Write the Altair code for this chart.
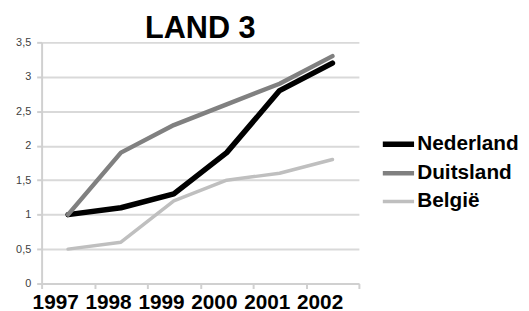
import altair as alt
import pandas as pd

years = ["1997", "1998", "1999", "2000", "2001", "2002"]
series_names = ["Nederland", "Duitsland", "België"]
nederland = [1.0, 1.1, 1.3, 1.9, 2.8, 3.2]
duitsland = [1.0, 1.9, 2.3, 2.6, 2.9, 3.3]
belgie = [0.5, 0.6, 1.2, 1.5, 1.6, 1.8]
y_ticks = [0, 0.5, 1, 1.5, 2, 2.5, 3, 3.5]

colors = ["#000000", "#808080", "#bfbfbf"]
widths = [5.5, 3.5, 3.5]

rows = []
for name, vals in zip(series_names, [nederland, duitsland, belgie]):
    for yr, v in zip(years, vals):
        rows.append({"jaar": yr, "waarde": v, "land": name})
df = pd.DataFrame(rows)

FONT = "Liberation Sans"

legend_kw = dict(title=None, orient="none", legendX=342, legendY=84,
                 symbolType="stroke", symbolSize=1000,
                 labelFont=FONT, labelFontSize=21,
                 labelFontWeight="bold", labelColor="#000000",
                 labelOffset=0, rowPadding=0, padding=0)

chart = alt.Chart(df).mark_line(strokeCap="round", strokeJoin="round").encode(
    x=alt.X("jaar:O", sort=years,
            scale=alt.Scale(type="band", paddingInner=0, paddingOuter=0),
            axis=alt.Axis(title=None, labelAngle=0, grid=False, tickBand="extent",
                          labelFont=FONT, labelFontSize=21, labelFontWeight="bold",
                          labelColor="#000000", labelOffset=-13, labelPadding=3,
                          domainColor="#d0d0d0", domainWidth=2,
                          tickColor="#d0d0d0", tickWidth=2, tickSize=5)),
    y=alt.Y("waarde:Q",
            scale=alt.Scale(domain=[0, 3.5], nice=False),
            axis=alt.Axis(title=None, values=y_ticks, format=".1~f",
                          labelExpr="replace(datum.label, '.', ',')",
                          labelFont=FONT, labelFontSize=11, labelColor="#404040",
                          labelPadding=6,
                          grid=True, gridColor="#d9d9d9", gridWidth=2,
                          domainColor="#d0d0d0", domainWidth=2,
                          tickColor="#d0d0d0", tickWidth=2, tickSize=5)),
    color=alt.Color("land:N",
                    scale=alt.Scale(domain=series_names, range=colors),
                    legend=alt.Legend(**legend_kw)),
    strokeWidth=alt.StrokeWidth("land:N",
                                scale=alt.Scale(domain=series_names, range=widths),
                                legend=alt.Legend(**legend_kw)),
).properties(
    width=321, height=244,
    title=alt.TitleParams("LAND 3", font=FONT, fontSize=31, fontWeight="bold",
                          color="#000000", anchor="middle", offset=4, dy=13),
    autosize=alt.AutoSizeParams(type="none"),
    padding={"left": 34, "top": 33, "right": 164, "bottom": 26},
).configure_view(stroke=None)

chart.save("out.html", embed_options={"renderer": "svg", "actions": False})
